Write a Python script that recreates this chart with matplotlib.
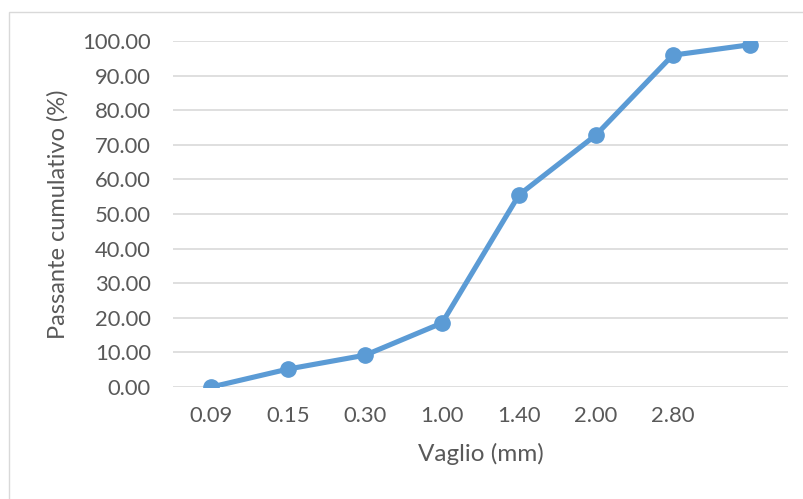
import matplotlib
matplotlib.use("Agg")
import matplotlib.pyplot as plt
from matplotlib.patches import Rectangle

# sieve sizes (last one has no label in the original)
vagli = ["0.09", "0.15", "0.30", "1.00", "1.40", "2.00", "2.80", ""]
passante = [0.0, 5.2, 9.2, 18.5, 55.5, 72.8, 95.9, 98.9]

plt.rcParams['font.family'] = ['Lato', 'DejaVu Sans']
grey = '#595959'

fig = plt.figure(figsize=(8.04, 4.99), dpi=100)
# outer chart frame (runs off the right and bottom edges)
fig.patches.append(Rectangle((9 / 804, -0.05), 1.0, 1 - 12 / 499 + 0.05,
                             transform=fig.transFigure, fill=False,
                             edgecolor='#D9D9D9', linewidth=1))

ax = fig.add_axes([173 / 804, 1 - 387 / 499, 615 / 804, 346 / 499])
x = range(len(passante))
ax.plot(x, passante, color='#5B9BD5', linewidth=3.7, marker='o',
        markersize=11, solid_capstyle='round', zorder=3)

ax.set_xlim(-0.5, len(passante) - 0.5)
ax.set_ylim(0, 100)
ax.set_xticks(list(x))
ax.set_xticklabels(vagli)
ax.set_yticks(range(0, 101, 10))
ax.set_yticklabels([f"{v:.2f}" for v in range(0, 101, 10)])

ax.grid(axis='y', color='#D9D9D9', linewidth=1.2)
ax.set_axisbelow(True)
for s in ax.spines.values():
    s.set_visible(False)
ax.tick_params(length=0, labelsize=15.8, colors=grey)
ax.tick_params(axis='y', pad=16)
ax.tick_params(axis='x', pad=14)

ax.set_xlabel("Vaglio (mm)", fontsize=17.5, color=grey, labelpad=12)
ax.set_ylabel("Passante cumulativo (%)", fontsize=17, color=grey, labelpad=10)

fig.savefig("out.png", dpi=100)
